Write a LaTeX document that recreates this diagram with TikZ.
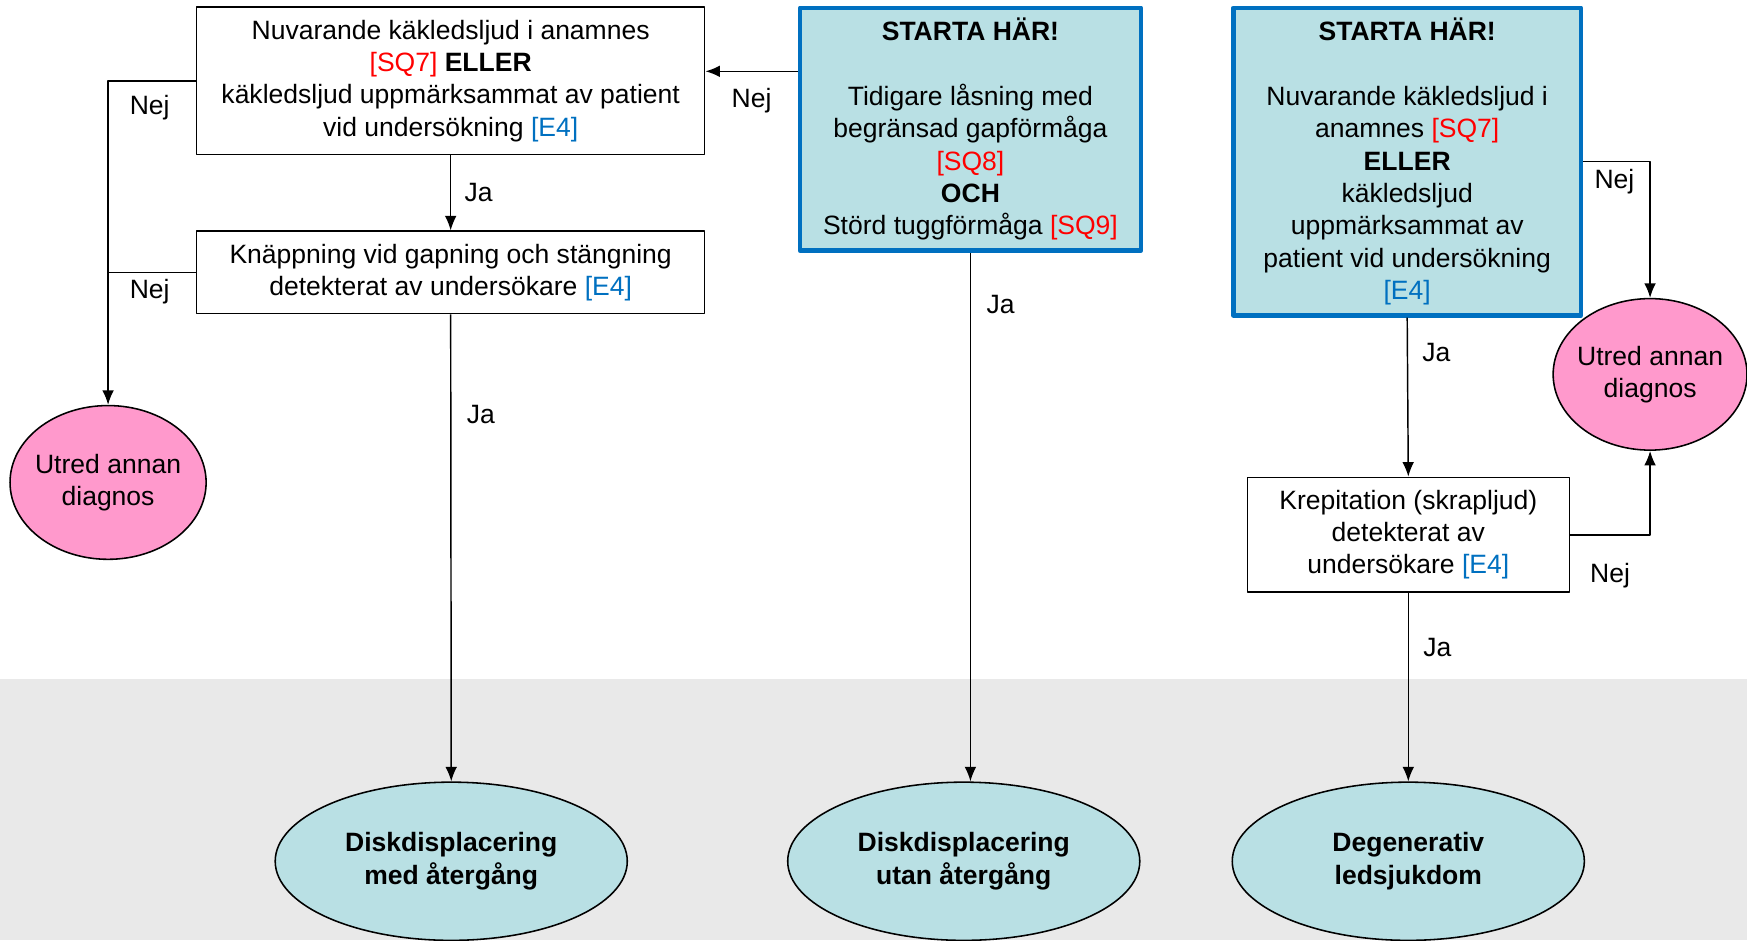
\documentclass[tikz,border=0pt]{standalone}
\usepackage{fontspec}
\setmainfont{Liberation Sans}
\usetikzlibrary{arrows.meta,shapes.geometric,positioning}
\definecolor{startfill}{RGB}{185,224,228}
\definecolor{startblue}{RGB}{0,112,192}
\definecolor{pinkfill}{RGB}{255,153,204}
\definecolor{band}{RGB}{233,233,233}
\definecolor{sqred}{RGB}{255,0,0}
\newcommand{\sq}[1]{\textcolor{sqred}{#1}}
\newcommand{\ev}[1]{\textcolor{startblue}{#1}}
\begin{document}
\begin{tikzpicture}[x=1pt,y=-1pt,>={Latex[length=13pt,width=10.5pt]},line join=round,
	font=\fontsize{23.8}{29}\selectfont,
	box/.style={draw,line width=1.4pt,align=center,inner sep=0pt},
	startbox/.style={draw=startblue,line width=4pt,fill=startfill,align=center,inner sep=0pt},
	utred/.style={ellipse,draw,line width=1.4pt,fill=pinkfill,align=center,inner sep=-10pt,minimum width=176pt,minimum height=138pt},
	slut/.style={ellipse,draw,line width=1.4pt,fill=startfill,align=center,inner sep=0pt,minimum width=316pt,minimum height=142pt,font=\fontsize{23.8}{29}\selectfont\bfseries},
	arr/.style={->,line width=1.3pt},
	lbl/.style={inner sep=0pt}]
				\useasboundingbox (0,0) rectangle (1568,844);
				\fill[band] (0,609) rectangle (1568,844);
				% frågor
				\node[box,minimum width=456pt,minimum height=132pt] (kak) at (404.5,72.5) {Nuvarande käkledsljud i anamnes\\ \sq{[SQ7]} \textbf{ELLER}\\ käkledsljud uppmärksammat av patient\\ vid undersökning \ev{[E4]}};
				\node[box,minimum width=456pt,minimum height=74pt] (knapp) at (404.5,244.5) {Knäppning vid gapning och stängning\\ detekterat av undersökare \ev{[E4]}};
				\node[startbox,minimum width=306pt,minimum height=218pt] (start1) at (871,116) {\textbf{STARTA HÄR!}\\ \mbox{}\\ Tidigare låsning med\\ begränsad gapförmåga\\ \sq{[SQ8]}\\ \textbf{OCH}\\ Störd tuggförmåga \sq{[SQ9]}};
				\node[startbox,minimum width=312pt,minimum height=276pt] (start2) at (1263,145) {\textbf{STARTA HÄR!}\\ \mbox{}\\ Nuvarande käkledsljud i\\ anamnes \sq{[SQ7]}\\ \textbf{ELLER}\\ käkledsljud\\ uppmärksammat av\\ patient vid undersökning\\ \ev{[E4]}};
				\node[box,minimum width=289pt,minimum height=103pt] (krep) at (1264,480) {Krepitation (skrapljud)\\ detekterat av\\ undersökare \ev{[E4]}};
				% utfall
				\node[utred] (utred1) at (97,433) {Utred annan\\ diagnos};
				\node[utred,minimum width=174pt,minimum height=136pt] (utred2) at (1481,336) {Utred annan\\ diagnos};
				\node[slut] (dmed) at (405,773) {Diskdisplacering\\ med återgång};
				\node[slut] (dutan) at (865,773) {Diskdisplacering\\ utan återgång};
				\node[slut] (degen) at (1264,773) {Degenerativ\\ ledsjukdom};
				% pilar
				\coordinate (k1) at ([yshift=8.5pt]kak.east);
				\draw[arr] (start1.west |- k1) -- (k1) node[lbl,midway,yshift=-26pt] {Nej};
				\draw[arr] (kak.south) -- (knapp.north) node[lbl,midway,xshift=25pt] {Ja};
				\draw[arr] (kak.west) -| (utred1.north) node[lbl,pos=0.25,xshift=-2pt,yshift=-24pt] {Nej};
				\draw[line width=1.3pt] (knapp.west) -- (knapp.west -| utred1.north) node[lbl,midway,xshift=-2pt,yshift=-17pt] {Nej};
				\draw[arr] (knapp.south) -- (dmed.north) node[lbl,pos=0.214,xshift=27pt] {Ja};
				\draw[arr] (start1.south) -- (start1.south |- dutan.north) node[lbl,pos=0.097,xshift=27pt] {Ja};
				\draw[arr] (start2.east) -| (utred2.north) node[lbl,pos=0.25,xshift=-2pt,yshift=-18pt] {Nej};
				\draw[arr] (start2.south) -- (krep.north) node[lbl,pos=0.217,xshift=26pt] {Ja};
				\draw[arr] (krep.east) -| (utred2.south) node[lbl,pos=0.25,yshift=-37pt] {Nej};
				\draw[arr] (krep.south) -- (degen.north) node[lbl,pos=0.288,xshift=26pt] {Ja};
\end{tikzpicture}
\end{document}
